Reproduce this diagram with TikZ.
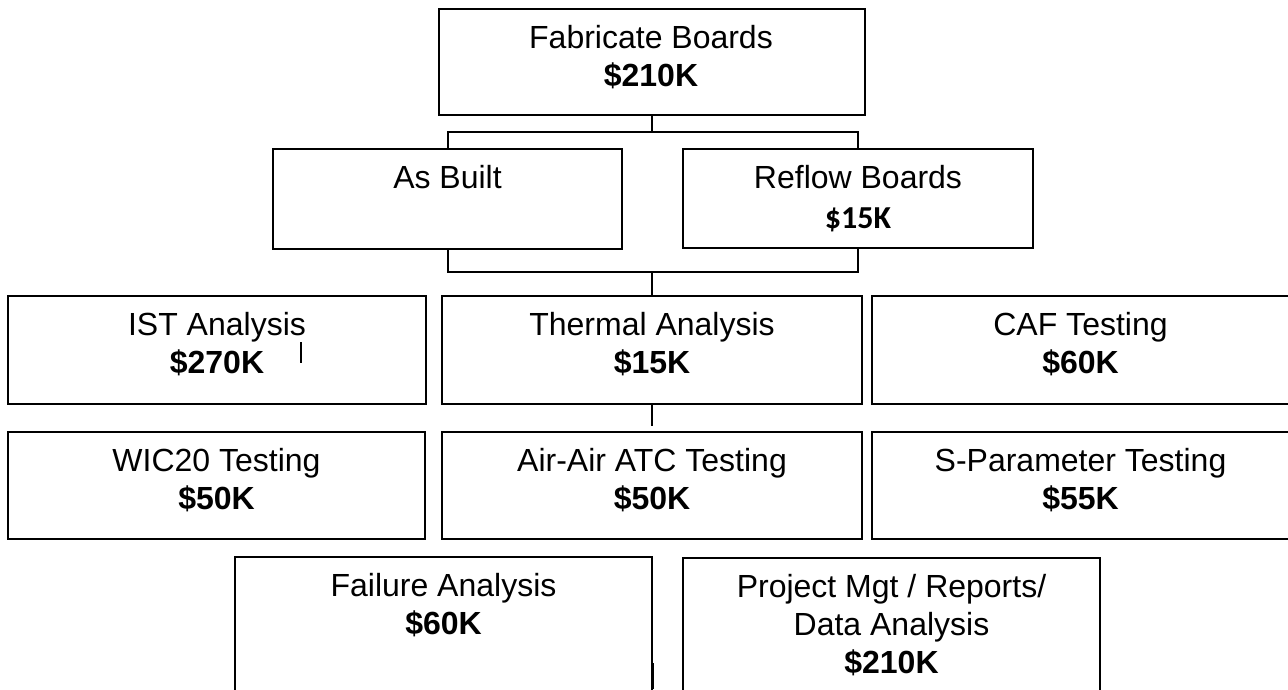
\documentclass[tikz,border=0pt]{standalone}
\usepackage{fontspec}
\setmainfont{Liberation Sans}
\newfontfamily\calibfont{Carlito}
\begin{document}
\begin{tikzpicture}[x=1pt,y=-1pt,
  box/.style={draw=black, line width=1.5pt, inner sep=0pt, fill=white},
  conn/.style={draw=black, line width=2pt},
  tickline/.style={draw=black, line width=1.3pt},
  txt/.style={anchor=base, inner sep=0pt, font=\fontsize{32}{38}\selectfont},
  btxt/.style={anchor=base, inner sep=0pt, font=\fontsize{32}{38}\selectfont\bfseries},
  ctxt/.style={anchor=base, inner sep=0pt, font=\fontsize{32}{38}\selectfont\calibfont\bfseries}]
\useasboundingbox (0,0) rectangle (1288,689);
\fill[white] (0,0) rectangle (1288,689);
\clip (0,0) rectangle (1288,689);

% boxes
\node[box, minimum width=426pt, minimum height=106pt] (fab) at (652,62) {};
\node[box, minimum width=349pt, minimum height=100pt] (asbuilt) at (447.5,199) {};
\node[box, minimum width=350pt, minimum height=99pt] (reflow) at (858,198.5) {};
\node[box, minimum width=418pt, minimum height=108pt] (ist) at (217,350) {};
\node[box, minimum width=420pt, minimum height=108pt] (thermal) at (652,350) {};
\node[box, minimum width=417pt, minimum height=108pt] (caf) at (1080.5,350) {};
\node[box, minimum width=417pt, minimum height=107pt] (wic) at (216.5,485.5) {};
\node[box, minimum width=420pt, minimum height=107pt] (airair) at (652,485.5) {};
\node[box, minimum width=417pt, minimum height=107pt] (spar) at (1080.5,485.5) {};
\node[box, minimum width=417pt, minimum height=160pt] (fail) at (443.5,637) {};
\node[box, minimum width=417pt, minimum height=160pt] (proj) at (891.5,638) {};

% connectors
\coordinate (j1) at (652,132);
\coordinate (j2) at (652,272);
\draw[conn] (fab.south) -- (j1);
\draw[conn] (asbuilt.north) |- (j1) -| (reflow.north);
\draw[conn] (asbuilt.south) |- (j2) -| (reflow.south);
\draw[conn] (j2) -- (thermal.north);
\draw[conn] (thermal.south) -- ++(0,21);
\coordinate (m1a) at (301,342);
\coordinate (m1b) at (301,363);
\draw[tickline] (m1a) -- (m1b);
\coordinate (m2a) at (653,663);
\coordinate (m2b) at (653,689);
\draw[conn] (m2a) -- (m2b);

% texts
\node[txt]  (fab1) at (651,48) {Fabricate Boards};
\node[btxt] (fab2) at (651,86) {\$210K};
\node[txt]  (ab1) at (447.5,188) {As Built};
\node[txt]  (rf1) at (858,188) {Reflow Boards};
\node[ctxt] (rf2) at (858,228) {\$15K};
\node[txt]  (ist1) at (217,335) {IST Analysis};
\node[btxt] (ist2) at (217,373) {\$270K};
\node[txt]  (th1) at (652,335) {Thermal Analysis};
\node[btxt] (th2) at (652,373) {\$15K};
\node[txt]  (caf1) at (1080.5,335) {CAF Testing};
\node[btxt] (caf2) at (1080.5,373) {\$60K};
\node[txt]  (wic1) at (216.5,471) {WIC20 Testing};
\node[btxt] (wic2) at (216.5,509) {\$50K};
\node[txt]  (aa1) at (652,471) {Air-Air ATC Testing};
\node[btxt] (aa2) at (652,509) {\$50K};
\node[txt]  (sp1) at (1080.5,471) {S-Parameter Testing};
\node[btxt] (sp2) at (1080.5,509) {\$55K};
\node[txt]  (fa1) at (443.5,596) {Failure Analysis};
\node[btxt] (fa2) at (443.5,634) {\$60K};
\node[txt]  (pm1) at (891.5,597) {Project Mgt / Reports/};
\node[txt]  (pm2) at (891.5,635) {Data Analysis};
\node[btxt] (pm3) at (891.5,673) {\$210K};
\end{tikzpicture}
\end{document}
